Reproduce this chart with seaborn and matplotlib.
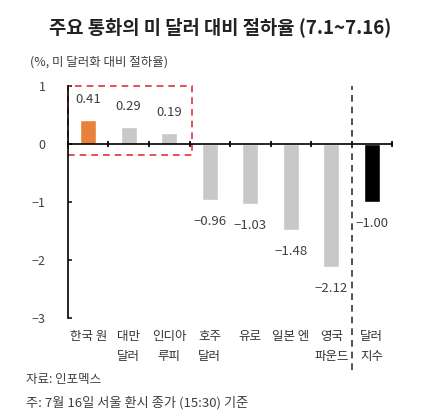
import matplotlib
matplotlib.use('Agg')
import matplotlib.pyplot as plt
import matplotlib.transforms as mtransforms
from matplotlib.patches import Rectangle
import seaborn as sns

# data
currencies = ['한국 원', '대만\n달러', '인디아\n루피', '호주\n달러', '유로', '일본 엔', '영국\n파운드', '달러\n지수']
rates = [0.41, 0.29, 0.19, -0.96, -1.03, -1.48, -2.12, -1.00]
bar_colors = ['#E8823A', '#C8C8C8', '#C8C8C8', '#C8C8C8', '#C8C8C8', '#C8C8C8', '#C8C8C8', '#000000']
y_ticks = [1, 0, -1, -2, -3]

sns.set_theme(style='white')
plt.rcParams['font.family'] = ['Noto Sans CJK KR', 'DejaVu Sans']
plt.rcParams['axes.unicode_minus'] = True

fig = plt.figure(figsize=(4.4, 4.18), dpi=100)
ax = fig.add_axes([0.1545, 0.239, 0.7365, 0.555])

sns.barplot(x=list(range(len(currencies))), y=rates, hue=list(range(len(currencies))),
            palette=bar_colors, width=0.39, legend=False, ax=ax, saturation=1)

ax.set_xlim(-0.5, len(currencies) - 0.5)
ax.set_ylim(-3, 1)

for s in ['top', 'right']:
    ax.spines[s].set_visible(False)
ax.spines['bottom'].set_position(('data', 0))
ax.spines['left'].set_color('black')
ax.spines['bottom'].set_color('black')
ax.spines['left'].set_linewidth(1.2)
ax.spines['bottom'].set_linewidth(1.2)

ax.set_yticks(y_ticks)
ax.set_yticklabels([str(t).replace('-', '\u2212') for t in y_ticks], color='#404040', fontsize=9)
ax.tick_params(axis='y', direction='in', length=3, pad=16, left=True)
ax.set_xticks([i - 0.5 for i in range(len(currencies) + 1)])
ax.set_xticklabels([])
ax.tick_params(axis='x', direction='inout', length=5, bottom=True, color='black')
ax.set_xlabel(None)
ax.set_ylabel(None)

# category labels under the plot
trans = mtransforms.blended_transform_factory(ax.transData, ax.transAxes)
for i, name in enumerate(currencies):
    ax.text(i, -0.05, name, transform=trans, ha='center', va='top', fontsize=9,
            color='#333333', linespacing=1.7)

# value labels
for i, v in enumerate(rates):
    txt = '{:.2f}'.format(v).replace('-', '\u2212')
    y = v + 0.36 if v > 0 else v - 0.37
    ax.text(i, y, txt, ha='center', va='center', fontsize=9.5, color='#404040')

# dashed separator before dollar index
ax.plot([6.5, 6.5], [-0.225, 1.0], transform=trans, color='#333333', lw=1.2,
        ls=(0, (4, 3)), clip_on=False)

# red box around Asian currencies
ax.add_patch(Rectangle((-0.5, -0.19), 3.06, 1.19, fill=False, ec='#E8303A', lw=1.2,
                       ls=(0, (4, 3)), clip_on=False))

fig.text(0.5, 0.935, '주요 통화의 미 달러 대비 절하율 (7.1~7.16)', ha='center', va='center',
         fontsize=13.5, fontweight='bold', color='#222222')
fig.text(0.068, 0.852, '(%, 미 달러화 대비 절하율)', ha='left', va='center', fontsize=9, color='#404040')
fig.text(0.058, 0.092, '자료: 인포멕스', ha='left', va='center', fontsize=9, color='#404040')
fig.text(0.058, 0.036, '주: 7월 16일 서울 환시 종가 (15:30) 기준', ha='left', va='center', fontsize=9.5, color='#404040')

fig.savefig('out.png', dpi=100)
